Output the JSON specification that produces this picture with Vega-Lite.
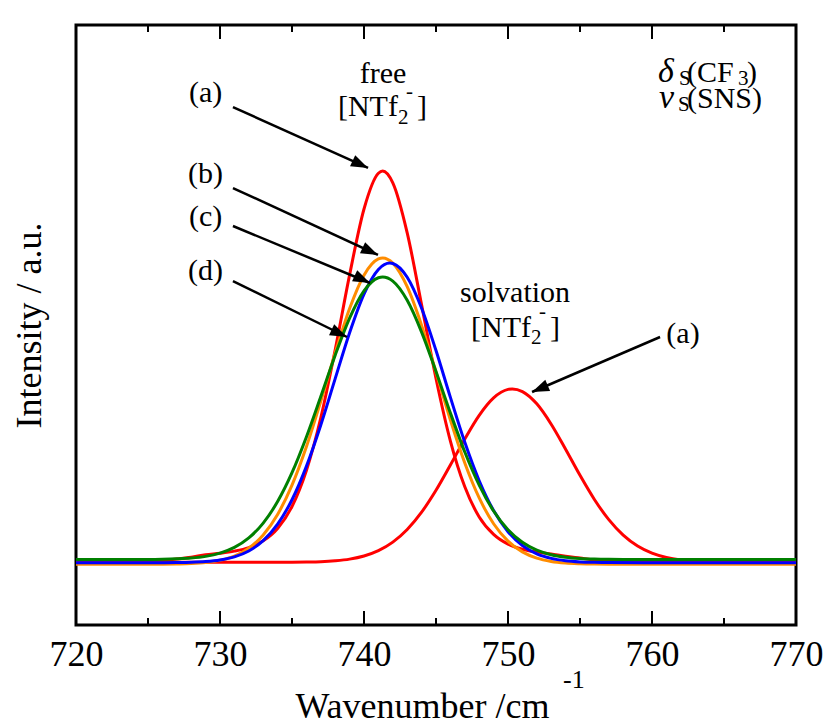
{
  "$schema": "https://vega.github.io/schema/vega-lite/v6.json",
  "width": 720,
  "height": 600,
  "autosize": {"type": "none"},
  "padding": {"left": 76, "top": 25, "right": 32, "bottom": 101},
  "background": "white",
  "config": {
    "font": "Liberation Serif",
    "view": {"stroke": "black", "strokeWidth": 3},
    "text": {"font": "Liberation Serif", "color": "black"}
  },
  "datasets": {
    "curves": [
      {"series":"a_free","x":720,"y":10.45},{"series":"a_free","x":722,"y":10.47},{"series":"a_free","x":724,"y":10.55},{"series":"a_free","x":726,"y":10.75},{"series":"a_free","x":727,"y":11.00},{"series":"a_free","x":728,"y":11.30},{"series":"a_free","x":729,"y":11.70},{"series":"a_free","x":730,"y":11.95},{"series":"a_free","x":731,"y":12.31},{"series":"a_free","x":732,"y":12.91},{"series":"a_free","x":733,"y":14.03},{"series":"a_free","x":734,"y":16.09},{"series":"a_free","x":735,"y":19.75},{"series":"a_free","x":736,"y":25.75},{"series":"a_free","x":737,"y":34.54},{"series":"a_free","x":738,"y":45.88},{"series":"a_free","x":739,"y":58.36},{"series":"a_free","x":740,"y":69.33},{"series":"a_free","x":741,"y":75.29},{"series":"a_free","x":741.3,"y":75.65},{"series":"a_free","x":742,"y":73.69},{"series":"a_free","x":743,"y":65.35},{"series":"a_free","x":744,"y":53.35},{"series":"a_free","x":745,"y":41.09},{"series":"a_free","x":746,"y":30.66},{"series":"a_free","x":747,"y":23.03},{"series":"a_free","x":748,"y":18.01},{"series":"a_free","x":749,"y":15.11},{"series":"a_free","x":750,"y":13.49},{"series":"a_free","x":751,"y":12.63},{"series":"a_free","x":752,"y":12.15},{"series":"a_free","x":753,"y":11.82},{"series":"a_free","x":754,"y":11.45},{"series":"a_free","x":755,"y":11.15},{"series":"a_free","x":756,"y":10.85},{"series":"a_free","x":758,"y":10.60},{"series":"a_free","x":760,"y":10.50},{"series":"a_free","x":763,"y":10.45},{"series":"a_free","x":770,"y":10.45},
      {"series":"a_solv","x":720,"y":10.45},{"series":"a_solv","x":730,"y":10.45},{"series":"a_solv","x":735,"y":10.47},{"series":"a_solv","x":736,"y":10.50},{"series":"a_solv","x":737,"y":10.56},{"series":"a_solv","x":738,"y":10.71},{"series":"a_solv","x":739,"y":10.98},{"series":"a_solv","x":740,"y":11.50},{"series":"a_solv","x":741,"y":12.39},{"series":"a_solv","x":742,"y":13.81},{"series":"a_solv","x":743,"y":15.92},{"series":"a_solv","x":744,"y":18.81},{"series":"a_solv","x":745,"y":22.46},{"series":"a_solv","x":746,"y":26.67},{"series":"a_solv","x":747,"y":31.01},{"series":"a_solv","x":748,"y":34.95},{"series":"a_solv","x":749,"y":37.86},{"series":"a_solv","x":750,"y":39.27},{"series":"a_solv","x":750.3,"y":39.35},{"series":"a_solv","x":751,"y":38.91},{"series":"a_solv","x":752,"y":36.86},{"series":"a_solv","x":753,"y":33.46},{"series":"a_solv","x":754,"y":29.29},{"series":"a_solv","x":755,"y":24.94},{"series":"a_solv","x":756,"y":20.92},{"series":"a_solv","x":757,"y":17.56},{"series":"a_solv","x":758,"y":14.98},{"series":"a_solv","x":759,"y":13.16},{"series":"a_solv","x":760,"y":11.98},{"series":"a_solv","x":761,"y":11.26},{"series":"a_solv","x":762,"y":10.85},{"series":"a_solv","x":763,"y":10.64},{"series":"a_solv","x":764,"y":10.53},{"series":"a_solv","x":765,"y":10.48},{"series":"a_solv","x":767,"y":10.45},{"series":"a_solv","x":770,"y":10.45},
      {"series":"b","x":720,"y":10.12},{"series":"b","x":725,"y":10.12},{"series":"b","x":726,"y":10.13},{"series":"b","x":727,"y":10.17},{"series":"b","x":728,"y":10.24},{"series":"b","x":729,"y":10.41},{"series":"b","x":730,"y":10.78},{"series":"b","x":731,"y":11.49},{"series":"b","x":732,"y":12.80},{"series":"b","x":733,"y":15.00},{"series":"b","x":734,"y":18.42},{"series":"b","x":735,"y":23.32},{"series":"b","x":736,"y":29.72},{"series":"b","x":737,"y":37.30},{"series":"b","x":738,"y":45.34},{"series":"b","x":739,"y":52.75},{"series":"b","x":740,"y":58.31},{"series":"b","x":741,"y":61.01},{"series":"b","x":741.3,"y":61.17},{"series":"b","x":742,"y":60.32},{"series":"b","x":743,"y":56.38},{"series":"b","x":744,"y":49.94},{"series":"b","x":745,"y":42.14},{"series":"b","x":746,"y":34.16},{"series":"b","x":747,"y":26.99},{"series":"b","x":748,"y":21.17},{"series":"b","x":749,"y":16.88},{"series":"b","x":750,"y":13.99},{"series":"b","x":751,"y":12.19},{"series":"b","x":752,"y":11.15},{"series":"b","x":753,"y":10.60},{"series":"b","x":754,"y":10.33},{"series":"b","x":755,"y":10.21},{"series":"b","x":756,"y":10.15},{"series":"b","x":757,"y":10.13},{"series":"b","x":760,"y":10.12},{"series":"b","x":770,"y":10.12},
      {"series":"c","x":720,"y":10.38},{"series":"c","x":725,"y":10.38},{"series":"c","x":726,"y":10.39},{"series":"c","x":727,"y":10.41},{"series":"c","x":728,"y":10.46},{"series":"c","x":729,"y":10.58},{"series":"c","x":730,"y":10.84},{"series":"c","x":731,"y":11.36},{"series":"c","x":732,"y":12.34},{"series":"c","x":733,"y":14.05},{"series":"c","x":734,"y":16.80},{"series":"c","x":735,"y":20.88},{"series":"c","x":736,"y":26.44},{"series":"c","x":737,"y":33.34},{"series":"c","x":738,"y":41.07},{"series":"c","x":739,"y":48.72},{"series":"c","x":740,"y":55.16},{"series":"c","x":741,"y":59.26},{"series":"c","x":741.8,"y":60.33},{"series":"c","x":742,"y":60.26},{"series":"c","x":743,"y":57.96},{"series":"c","x":744,"y":52.80},{"series":"c","x":745,"y":45.74},{"series":"c","x":746,"y":37.93},{"series":"c","x":747,"y":30.44},{"series":"c","x":748,"y":24.04},{"series":"c","x":749,"y":19.07},{"series":"c","x":750,"y":15.55},{"series":"c","x":751,"y":13.26},{"series":"c","x":752,"y":11.87},{"series":"c","x":753,"y":11.11},{"series":"c","x":754,"y":10.71},{"series":"c","x":755,"y":10.52},{"series":"c","x":756,"y":10.44},{"series":"c","x":757,"y":10.40},{"series":"c","x":760,"y":10.38},{"series":"c","x":770,"y":10.38},
      {"series":"d","x":720,"y":10.92},{"series":"d","x":725,"y":10.93},{"series":"d","x":726,"y":10.96},{"series":"d","x":727,"y":11.03},{"series":"d","x":728,"y":11.16},{"series":"d","x":729,"y":11.44},{"series":"d","x":730,"y":11.98},{"series":"d","x":731,"y":12.93},{"series":"d","x":732,"y":14.51},{"series":"d","x":733,"y":16.98},{"series":"d","x":734,"y":20.57},{"series":"d","x":735,"y":25.38},{"series":"d","x":736,"y":31.34},{"series":"d","x":737,"y":38.08},{"series":"d","x":738,"y":44.97},{"series":"d","x":739,"y":51.15},{"series":"d","x":740,"y":55.69},{"series":"d","x":741,"y":57.87},{"series":"d","x":741.3,"y":58.00},{"series":"d","x":742,"y":57.32},{"series":"d","x":743,"y":54.12},{"series":"d","x":744,"y":48.82},{"series":"d","x":745,"y":42.25},{"series":"d","x":746,"y":35.33},{"series":"d","x":747,"y":28.83},{"series":"d","x":748,"y":23.31},{"series":"d","x":749,"y":18.99},{"series":"d","x":750,"y":15.88},{"series":"d","x":751,"y":13.79},{"series":"d","x":752,"y":12.48},{"series":"d","x":753,"y":11.72},{"series":"d","x":754,"y":11.31},{"series":"d","x":755,"y":11.10},{"series":"d","x":756,"y":11.00},{"series":"d","x":757,"y":10.95},{"series":"d","x":758,"y":10.93},{"series":"d","x":760,"y":10.92},{"series":"d","x":770,"y":10.92}
    ],
    "ticks": [
      {"v":730,"kind":"major"},{"v":740,"kind":"major"},{"v":750,"kind":"major"},{"v":760,"kind":"major"},
      {"v":725,"kind":"minor"},{"v":735,"kind":"minor"},{"v":745,"kind":"minor"},{"v":755,"kind":"minor"},{"v":765,"kind":"minor"}
    ],
    "arrows": [
      {"label":"a","dir":"L","x1":730.90,"y1":86.33,"x2":740.28,"y2":76.17},
      {"label":"b","dir":"L","x1":730.90,"y1":72.83,"x2":740.97,"y2":61.67},
      {"label":"c","dir":"L","x1":730.90,"y1":66.5,"x2":740.42,"y2":57.00},
      {"label":"d","dir":"L","x1":730.90,"y1":57.33,"x2":738.82,"y2":48.00},
      {"label":"a2","dir":"R","x1":760.56,"y1":48.00,"x2":751.67,"y2":38.83}
    ],
    "ctext": [
      {"t":"free","x":741.32,"y":90.33},
      {"t":"solvation","x":750.49,"y":53.88},
      {"t":"(a)","x":729.0,"y":87.17},
      {"t":"(b)","x":729.0,"y":73.67},
      {"t":"(c)","x":729.0,"y":66.5},
      {"t":"(d)","x":729.0,"y":57.5},
      {"t":"(a)","x":762.15,"y":47.0}
    ],
    "ltext": [
      {"t":"[NTf","x":738.19,"y":84.83},
      {"t":"]","x":743.68,"y":84.83},
      {"t":"[NTf","x":747.43,"y":48.0},
      {"t":"]","x":752.92,"y":48.0},
      {"t":"(CF","x":762.43,"y":90.5},
      {"t":")","x":766.6,"y":90.5},
      {"t":"(SNS)","x":762.43,"y":86.17}
    ],
    "itext": [
      {"t":"δ","x":760.42,"y":90.5},
      {"t":"ν","x":760.49,"y":86.17}
    ],
    "stext": [
      {"t":"2","x":742.36,"y":83.5},
      {"t":"-","x":742.92,"y":87.83},
      {"t":"2","x":751.6,"y":46.83},
      {"t":"-","x":752.15,"y":51.17},
      {"t":"S","x":761.88,"y":90.0},
      {"t":"3","x":765.97,"y":90.0},
      {"t":"S","x":761.81,"y":85.67}
    ],
    "sup": [
      {"t":"-1","x":753.82,"y":-10.5}
    ]
  },
  "layer": [
    {
      "data": {"name": "curves"},
      "mark": {"type": "line", "strokeWidth": 3, "interpolate": "monotone"},
      "encoding": {
        "x": {
          "field": "x", "type": "quantitative",
          "scale": {"domain": [720, 770], "nice": false, "zero": false},
          "axis": {
            "values": [720, 730, 740, 750, 760, 770],
            "ticks": false, "domain": false, "grid": false,
            "labelFont": "Liberation Serif", "labelFontSize": 36, "labelColor": "black",
            "labelFlush": false, "labelPadding": 12, "labelBaseline": "top",
            "title": "Wavenumber /cm", "titleFont": "Liberation Serif", "titleFontSize": 36,
            "titleFontWeight": "normal", "titleColor": "black",
            "titleX": 346, "titleY": 92, "titleBaseline": "alphabetic", "titleAlign": "center"
          }
        },
        "y": {
          "field": "y", "type": "quantitative",
          "scale": {"domain": [0, 100], "nice": false, "zero": false},
          "axis": {
            "labels": false, "ticks": false, "domain": false, "grid": false,
            "title": "Intensity / a.u.", "titleFont": "Liberation Serif", "titleFontSize": 36,
            "titleFontWeight": "normal", "titleColor": "black",
            "titleX": -36, "titleY": 300, "titleBaseline": "alphabetic", "titleAlign": "center", "titleAngle": 270
          }
        },
        "detail": {"field": "series"},
        "color": {
          "field": "series", "type": "nominal", "legend": null,
          "scale": {"domain": ["a_free", "a_solv", "b", "c", "d"], "range": ["#ff0000", "#ff0000", "#ff8c00", "#0000ff", "#008000"]}
        }
      }
    },
    {
      "data": {"name": "ticks"},
      "transform": [{"filter": "datum.kind === 'major'"}],
      "layer": [
        {"mark": {"type": "rule", "strokeWidth": 2, "color": "black"},
         "encoding": {"x": {"field": "v", "type": "quantitative"}, "y": {"datum": 0}, "y2": {"datum": 2.33}}},
        {"mark": {"type": "rule", "strokeWidth": 2, "color": "black"},
         "encoding": {"x": {"field": "v", "type": "quantitative"}, "y": {"datum": 100}, "y2": {"datum": 97.67}}}
      ]
    },
    {
      "data": {"name": "ticks"},
      "transform": [{"filter": "datum.kind === 'minor'"}],
      "layer": [
        {"mark": {"type": "rule", "strokeWidth": 2, "color": "black"},
         "encoding": {"x": {"field": "v", "type": "quantitative"}, "y": {"datum": 0}, "y2": {"datum": 1.17}}},
        {"mark": {"type": "rule", "strokeWidth": 2, "color": "black"},
         "encoding": {"x": {"field": "v", "type": "quantitative"}, "y": {"datum": 100}, "y2": {"datum": 98.83}}}
      ]
    },
    {
      "data": {"name": "arrows"},
      "mark": {"type": "rule", "strokeWidth": 2.5, "color": "black"},
      "encoding": {
        "x": {"field": "x1", "type": "quantitative"},
        "y": {"field": "y1", "type": "quantitative"},
        "x2": {"field": "x2"},
        "y2": {"field": "y2"}
      }
    },
    {
      "data": {"name": "arrows"},
      "transform": [{"filter": "datum.dir === 'L'"}],
      "mark": {"type": "point", "shape": "M0,0L-1,-0.36L-1,0.36Z", "filled": true, "color": "black", "opacity": 1, "size": 1156, "angle": 25},
      "encoding": {
        "x": {"field": "x2", "type": "quantitative"},
        "y": {"field": "y2", "type": "quantitative"}
      }
    },
    {
      "data": {"name": "arrows"},
      "transform": [{"filter": "datum.dir === 'R'"}],
      "mark": {"type": "point", "shape": "M0,0L-1,-0.36L-1,0.36Z", "filled": true, "color": "black", "opacity": 1, "size": 1156, "angle": 157},
      "encoding": {
        "x": {"field": "x2", "type": "quantitative"},
        "y": {"field": "y2", "type": "quantitative"}
      }
    },
    {
      "data": {"name": "ctext"},
      "mark": {"type": "text", "font": "Liberation Serif", "fontSize": 30, "align": "center", "baseline": "alphabetic", "color": "black"},
      "encoding": {
        "x": {"field": "x", "type": "quantitative"},
        "y": {"field": "y", "type": "quantitative"},
        "text": {"field": "t"}
      }
    },
    {
      "data": {"name": "ltext"},
      "mark": {"type": "text", "font": "Liberation Serif", "fontSize": 30, "align": "left", "baseline": "alphabetic", "color": "black"},
      "encoding": {
        "x": {"field": "x", "type": "quantitative"},
        "y": {"field": "y", "type": "quantitative"},
        "text": {"field": "t"}
      }
    },
    {
      "data": {"name": "itext"},
      "mark": {"type": "text", "font": "Liberation Serif", "fontSize": 34, "fontStyle": "italic", "align": "left", "baseline": "alphabetic", "color": "black"},
      "encoding": {
        "x": {"field": "x", "type": "quantitative"},
        "y": {"field": "y", "type": "quantitative"},
        "text": {"field": "t"}
      }
    },
    {
      "data": {"name": "stext"},
      "mark": {"type": "text", "font": "Liberation Serif", "fontSize": 21, "align": "left", "baseline": "alphabetic", "color": "black"},
      "encoding": {
        "x": {"field": "x", "type": "quantitative"},
        "y": {"field": "y", "type": "quantitative"},
        "text": {"field": "t"}
      }
    },
    {
      "data": {"name": "sup"},
      "mark": {"type": "text", "font": "Liberation Serif", "fontSize": 26, "align": "left", "baseline": "alphabetic", "color": "black"},
      "encoding": {
        "x": {"field": "x", "type": "quantitative"},
        "y": {"field": "y", "type": "quantitative"},
        "text": {"field": "t"}
      }
    }
  ]
}
